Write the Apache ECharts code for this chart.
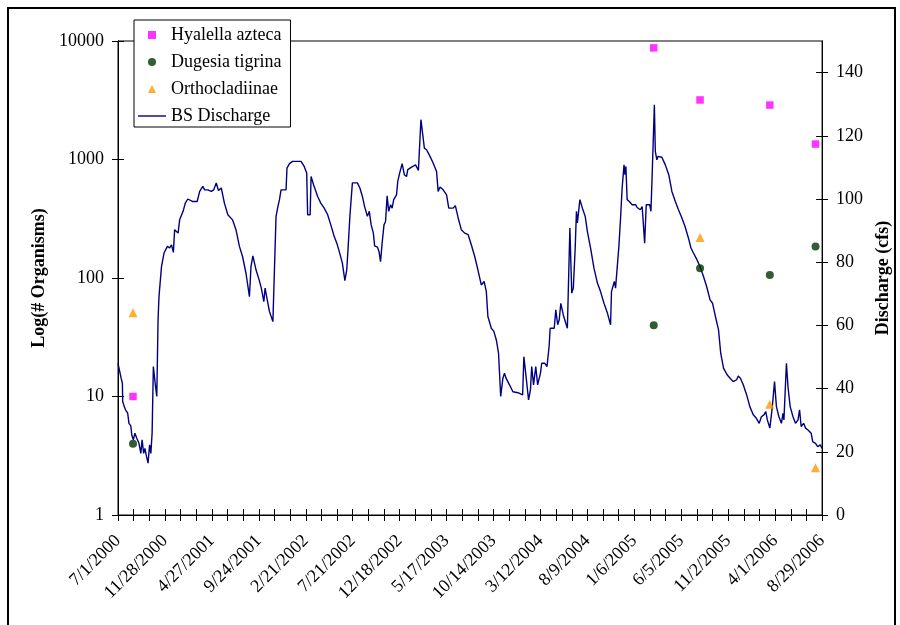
<!DOCTYPE html>
<html><head><meta charset="utf-8">
<script src="https://cdn.jsdelivr.net/npm/echarts@6/dist/echarts.min.js"></script>
<style>html,body{margin:0;padding:0;background:#fff}#c{width:900px;height:625px}</style>
</head><body><div id="c"></div>
<script>
// days since 7/1/2000
const dischargeDay = [0,10,14,15,20,24,31,35,41,44,49,54,60,67,73,77,82,86,90,96,101,105,109,113,120,124,128,131,139,147,158,165,171,177,181,192,197,208,215,223,239,253,261,271,277,287,298,306,314,321,330,340,351,366,377,388,398,409,420,425,431,441,451,
458,466,470,479,484,495,500,505,511,516,521,537,540,548,558,585,595,603,606,614,617,625,638,648,659,670,680,691,701,710,717,725,731,735,741,749,765,773,781,788,797,803,809,816,820,829,834,839,844,850,855,860,865,871,876,881,890,894,900,908,915,922,926,
938,951,960,968,972,979,986,991,997,1007,1018,1023,1029,1039,1050,1057,1071,1078,1087,1097,1108,1119,1129,1140,1150,1161,1170,1177,1182,1193,1201,1209,1216,1223,1230,1235,1240,1246,1251,1262,1278,1293,1297,1304,1312,1318,1322,1328,1335,1341,1350,1354,1364,1371,1378,1381,1394,1399,1405,
1410,1415,1423,1431,1436,1444,1447,1450,1455,1461,1465,1468,1476,1484,1493,1500,1510,1521,1532,1542,1553,1564,1574,1577,1582,1586,1590,1595,1601,1606,1611,1617,1620,1623,1627,1634,1643,1654,1659,1669,1675,1680,1683,1688,1699,1703,1707,1714,1717,1722,1726,1738,1749,1760,1770,1781,1791,1802,1812,1823,1831,
1839,1850,1860,1871,1881,1892,1900,1908,1919,1926,1935,1940,1947,1956,1966,1977,1982,1989,1998,2009,2019,2030,2040,2049,2056,2064,2070,2075,2083,2091,2098,2104,2112,2120,2125,2128,2136,2141,2148,2157,2165,2173,2178,2183,2191,2197,2205,2215,2220,2229,2236,2244,2250];
const dischargeCfs = [48.0,43.3,41.7,35.9,34.3,33.3,32.2,29.0,28.2,25.3,23.8,25.9,24.3,22.7,19.5,23.8,19.5,21.1,19.0,16.4,22.2,19.5,25.9,47.0,40.6,37.5,61.8,69.1,78.6,82.9,85.0,84.5,85.5,83.1,90.3,89.2,93.4,96.1,98.7,100.0,99.2,99.2,102.4,104.0,102.9,102.9,102.4,102.9,105.1,102.7,103.5,98.7,95.0,93.4,90.3,85.0,81.8,76.5,69.1,78.6,82.0,77.6,74.4,
71.8,67.5,71.8,67.0,64.4,61.2,61.2,94.5,97.6,99.8,102.9,102.9,109.8,111.2,111.9,111.9,110.3,108.2,95.0,95.0,107.1,104.5,100.8,98.7,97.1,95.0,91.8,88.1,85.5,82.3,79.7,74.2,77.6,83.9,94.5,105.1,105.1,103.5,100.8,97.6,94.5,96.1,91.8,89.2,85.2,84.8,83.4,80.2,86.0,91.8,92.9,101.0,96.1,98.2,97.1,99.8,101.3,105.6,108.2,111.2,107.7,107.1,109.3,
110.1,110.8,109.0,125.1,121.9,116.1,115.6,115.8,113.5,111.4,108.7,102.4,103.8,102.9,101.3,97.1,97.1,97.9,94.0,90.3,89.2,88.7,85.5,81.8,77.6,72.8,73.9,70.7,62.8,59.1,58.1,55.4,51.2,37.5,43.3,44.9,43.3,43.3,41.2,39.0,38.7,38.0,50.1,43.8,36.4,39.6,47.0,41.2,47.0,41.2,44.9,48.0,48.0,47.0,53.8,59.1,59.1,64.9,60.2,
61.8,67.0,63.3,60.7,59.1,90.8,90.8,70.2,71.8,84.5,96.1,92.4,99.8,97.1,94.5,89.7,84.5,78.1,73.4,70.7,67.0,63.9,60.2,70.7,70.2,73.9,71.8,71.3,85.5,94.0,103.5,110.8,107.7,110.3,99.8,99.2,98.2,98.2,97.3,96.6,97.6,98.2,86.0,98.2,98.2,96.1,107.7,129.8,115.1,112.4,113.5,113.2,110.8,107.7,102.4,99.2,96.6,94.0,91.3,87.6,84.5,
82.9,80.8,78.6,75.5,72.3,68.1,67.0,63.3,58.6,51.2,46.5,47.0,44.3,43.3,42.2,42.8,44.0,43.3,41.2,38.0,34.3,31.7,30.6,29.0,31.1,31.7,32.7,30.1,27.5,34.3,42.2,34.3,31.1,29.0,32.2,30.1,48.0,40.6,34.3,31.1,29.0,30.1,33.3,28.0,29.0,27.5,26.9,25.9,23.2,22.7,21.6,22.2,21.1];

const sampleDay = [48, 1712, 1860, 2083, 2229];
const hyalella = [10, 8750, 3180, 2880, 1350];
const dugesia = [4, 40, 121, 106, 184];
const ortho = [51, null, 220, 8.6, 2.5];

const xTickLabels = ['7/1/2000','11/28/2000','4/27/2001','9/24/2001','2/21/2002','7/21/2002','12/18/2002','5/17/2003','10/14/2003','3/12/2004','8/9/2004','1/6/2005','6/5/2005','11/2/2005','4/1/2006','8/29/2006'];
const leftTicks = [1, 10, 100, 1000, 10000];
const rightTicks = [0, 20, 40, 60, 80, 100, 120, 140];

const FONT = "'Liberation Serif', 'Times New Roman', serif";
const chart = echarts.init(document.getElementById('c'), null, {renderer: 'canvas'});

const pair = (xs, ys) => xs.map((x, i) => [x, ys[i]]).filter(p => p[1] != null);

const baseX = {
  type: 'value', min: 0, max: 2250, interval: 50, position: 'bottom',
  axisLine: {show: true, lineStyle: {color: '#000', width: 1}},
  splitLine: {show: false}
};
const xAxes = [
  Object.assign({}, baseX, {
    axisTick: {show: true, inside: false, length: 6, lineStyle: {color: '#000'}},
    axisLabel: {
      rotate: 45, margin: 23, fontSize: 18, fontFamily: FONT, color: '#000',
      formatter: v => (Math.round(v) % 150 === 0 ? xTickLabels[Math.round(v) / 150] : '')
    }
  }),
  Object.assign({}, baseX, {
    axisTick: {show: true, inside: true, length: 6, lineStyle: {color: '#000'}},
    axisLabel: {show: false}
  })
];

const baseLog = {
  type: 'log', logBase: 10, min: 1, max: 10000, position: 'left',
  axisLine: {show: true, lineStyle: {color: '#000'}}, splitLine: {show: false}, minorTick: {show: false}
};
const baseR = {
  type: 'value', min: 0, max: 150, interval: 20, position: 'right',
  axisLine: {show: true, lineStyle: {color: '#000'}}, splitLine: {show: false}
};
const yAxes = [
  Object.assign({}, baseLog, {
    name: 'Log(# Organisms)', nameLocation: 'middle', nameGap: 70,
    nameTextStyle: {fontFamily: FONT, fontWeight: 'bold', fontSize: 18, color: '#000'},
    axisTick: {show: true, inside: false, length: 6, lineStyle: {color: '#000'}},
    axisLabel: {margin: 14, fontSize: 18, fontFamily: FONT, color: '#000',
      formatter: v => String(leftTicks.find(t => Math.abs(t - v) / t < 1e-6) ?? Math.round(v))}
  }),
  Object.assign({}, baseLog, {
    axisTick: {show: true, inside: true, length: 6, lineStyle: {color: '#000'}},
    axisLabel: {show: false}
  }),
  Object.assign({}, baseR, {
    name: 'Discharge (cfs)', nameLocation: 'middle', nameGap: 51,
    nameTextStyle: {fontFamily: FONT, fontWeight: 'bold', fontSize: 18, color: '#000'},
    axisTick: {show: true, inside: false, length: 6, lineStyle: {color: '#000'}, customValues: rightTicks},
    axisLabel: {margin: 14, fontSize: 18, fontFamily: FONT, color: '#000', customValues: rightTicks,
      formatter: v => (rightTicks.indexOf(v) >= 0 ? String(v) : '')}
  }),
  Object.assign({}, baseR, {
    axisTick: {show: true, inside: true, length: 6, lineStyle: {color: '#000'}, customValues: rightTicks},
    axisLabel: {show: false}
  })
];

chart.setOption({
  animation: false,
  backgroundColor: '#fff',
  textStyle: {fontFamily: FONT},
  grid: {left: 118, right: 74, top: 41, bottom: 110, show: true, borderColor: '#000', borderWidth: 1, backgroundColor: 'transparent'},
  graphic: [{
    type: 'rect', z: -1, silent: true,
    shape: {x: 8, y: 8, width: 887, height: 700},
    style: {fill: 'none', stroke: '#000', lineWidth: 2}
  }],
  legend: {
    orient: 'vertical', left: 134, top: 20,
    itemWidth: 28, itemHeight: 8, itemGap: 9,
    padding: [6, 9, 2, 4],
    backgroundColor: '#fff', borderColor: '#000', borderWidth: 1,
    textStyle: {fontSize: 18, fontFamily: FONT, color: '#000', lineHeight: 18},
    data: [
      {name: 'Hyalella azteca', icon: 'path://M0,0H10V10H0Z'},
      {name: 'Dugesia tigrina', icon: 'circle'},
      {name: 'Orthocladiinae', icon: 'path://M5,0L10,10H0Z'},
      {name: 'BS Discharge', icon: 'path://M0,0H28V1.4H0Z', itemStyle: {color: '#000080'}}
    ]
  },
  xAxis: xAxes,
  yAxis: yAxes,
  series: [
    {name: 'BS Discharge', type: 'line', xAxisIndex: 0, yAxisIndex: 2, data: pair(dischargeDay, dischargeCfs),
     symbol: 'none', showSymbol: false, lineStyle: {color: '#000080', width: 1.4}, itemStyle: {color: '#000080'}, z: 2},
    {name: 'Hyalella azteca', type: 'scatter', xAxisIndex: 0, yAxisIndex: 0, data: pair(sampleDay, hyalella),
     symbol: 'rect', symbolSize: 7.5, itemStyle: {color: '#FF00FF'}, z: 3},
    {name: 'Dugesia tigrina', type: 'scatter', xAxisIndex: 0, yAxisIndex: 0, data: pair(sampleDay, dugesia),
     symbol: 'circle', symbolSize: 8, itemStyle: {color: '#003300'}, z: 3},
    {name: 'Orthocladiinae', type: 'scatter', xAxisIndex: 0, yAxisIndex: 0, data: pair(sampleDay, ortho),
     symbol: 'triangle', symbolSize: 9, itemStyle: {color: '#FF9900'}, z: 3}
  ]
});
</script></body></html>
